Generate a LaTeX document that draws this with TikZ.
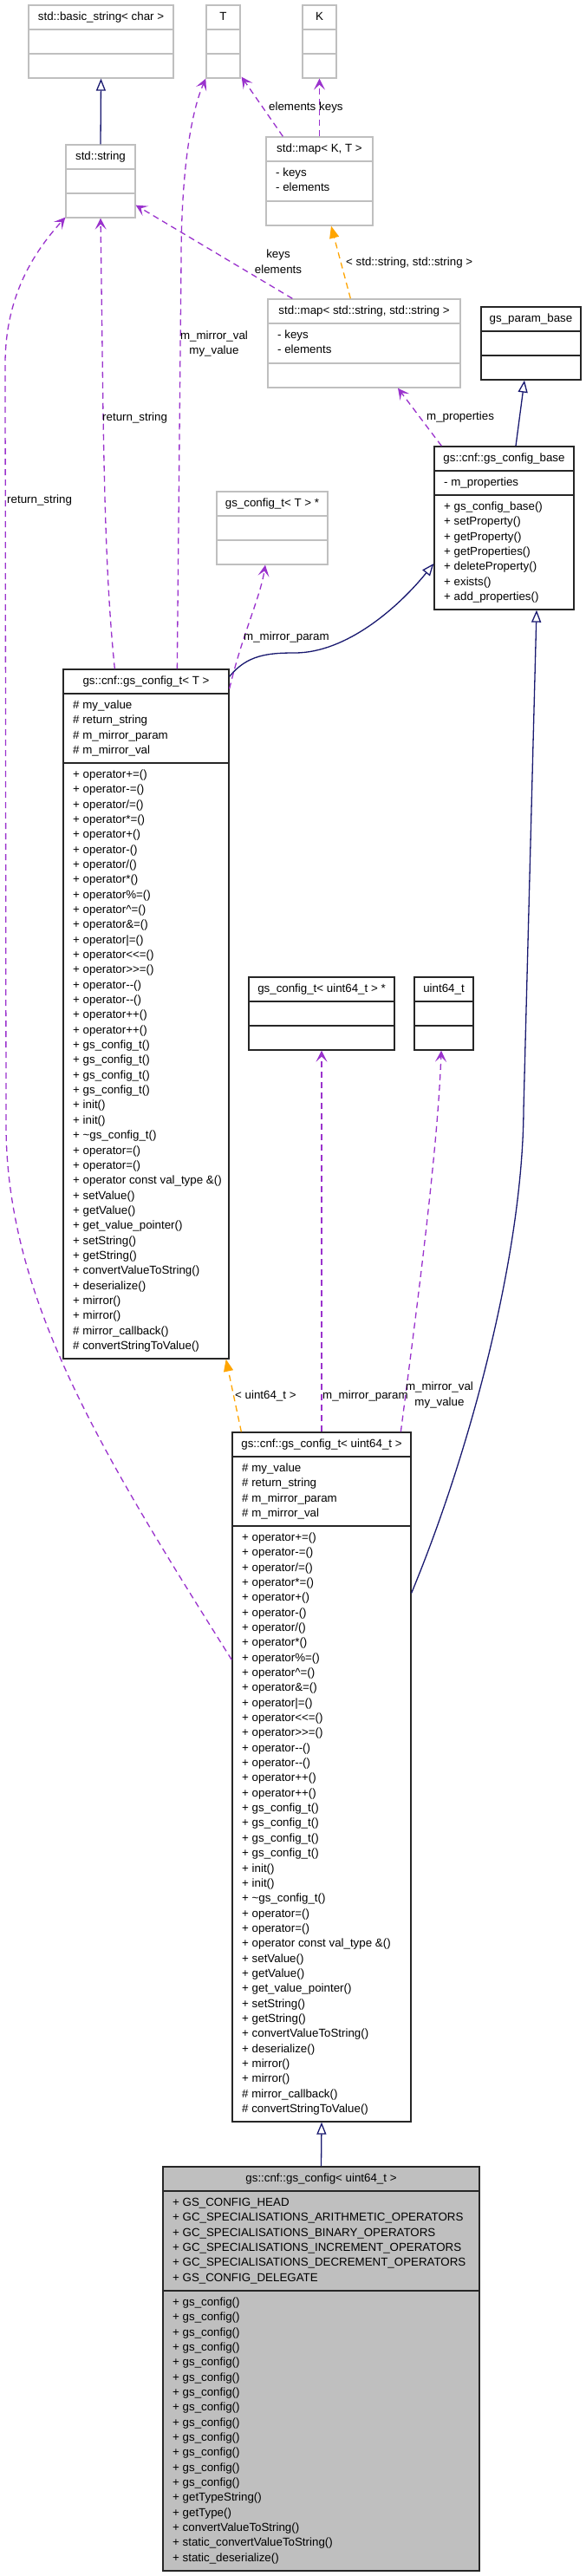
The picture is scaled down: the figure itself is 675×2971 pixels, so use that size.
\documentclass[tikz,border=0pt]{standalone}
\usepackage{fontspec}
\newfontfamily\dox{Liberation Sans}
\usetikzlibrary{arrows.meta,fit}
\definecolor{gborder}{HTML}{BFBFBF}
\definecolor{gfill}{HTML}{BFBFBF}
\definecolor{epurple}{HTML}{9A32CD}
\definecolor{eorange}{HTML}{FFA500}
\definecolor{eblue}{HTML}{191970}
\newcommand\doxfont{\dox\fontsize{13.33}{17.34}\selectfont}
\tikzset{
  every node/.style={font=\doxfont, text=black},
  graybox/.style={draw=gborder, line width=1.3pt, fill=white},
  blackbox/.style={draw=black!85, line width=1.3pt, fill=white},
  basebox/.style={draw=black!85, line width=1.3pt, fill=gfill},
  grayline/.style={draw=gborder, line width=1.3pt},
  blackline/.style={draw=black!85, line width=1.3pt},
  usearrow/.style={draw=epurple, line width=1.3pt, dash pattern=on 7pt off 5pt,
    -{Stealth[length=13pt,width=13pt,inset=6pt]}},
  tplarrow/.style={draw=eorange, line width=1.3pt, dash pattern=on 7pt off 5pt,
    -{Triangle[length=14pt,width=11pt]}},
  inharrow/.style={draw=eblue, line width=1.3pt,
    -{Triangle[open,length=14pt,width=11pt,fill=white]}},
  lbl/.style={anchor=base, inner sep=0pt},
  lbll/.style={anchor=base west, inner sep=0pt},
}
% box: name, style, x1, y1, x2, y2, title
\newcommand\umlbox[7]{%
  \node[#2, fit={(#3,#4) (#5,#6)}, inner sep=0pt] (#1) {};
  \node[lbl] (#1-t) at ({(#3+#5)/2}, {#4+17.5}) {#7};
}
% divider: style, x1, x2, y
\newcommand\umldiv[4]{\draw[#1] (#2,#4) -- (#3,#4);}
% lines: name prefix, x, first baseline, list
\newcommand\umllines[4]{%
  \foreach \t [count=\i from 0] in {#4} {\node[lbll] (#1\i) at (#2, {#3+\i*17.34}) {\t};}
}
\begin{document}
\begin{tikzpicture}[x=1pt,y=-1pt]
\useasboundingbox (0,0) rectangle (675,2971);
\fill[white] (0,0) rectangle (675,2971);

% ---------- boxes ----------
\umlbox{bstr}{graybox}{33}{6}{200}{90}{std::basic\_string< char >}
\umldiv{grayline}{33}{200}{34}\umldiv{grayline}{33}{200}{62}

\umlbox{tT}{graybox}{238}{6}{277}{90}{T}
\umldiv{grayline}{238}{277}{34}\umldiv{grayline}{238}{277}{62}

\umlbox{tK}{graybox}{349}{6}{388}{90}{K}
\umldiv{grayline}{349}{388}{34}\umldiv{grayline}{349}{388}{62}

\umlbox{str}{graybox}{76}{167}{156}{251}{std::string}
\umldiv{grayline}{76}{156}{195}\umldiv{grayline}{76}{156}{223}

\umlbox{mapKT}{graybox}{307}{158}{430}{260}{std::map< K, T >}
\umldiv{grayline}{307}{430}{186}\umldiv{grayline}{307}{430}{232}
\umllines{mapKT-a}{318}{203.5}{- keys, - elements}

\umlbox{mapSS}{graybox}{309}{345}{531}{447}{std::map< std::string, std::string >}
\umldiv{grayline}{309}{531}{373}\umldiv{grayline}{309}{531}{419}
\umllines{mapSS-a}{320}{390.5}{- keys, - elements}

\umlbox{pbase}{blackbox}{555}{354}{670}{438}{gs\_param\_base}
\umldiv{blackline}{555}{670}{382}\umldiv{blackline}{555}{670}{410}

\umlbox{cbase}{blackbox}{501}{515}{662}{703}{gs::cnf::gs\_config\_base}
\umldiv{blackline}{501}{662}{543}\umldiv{blackline}{501}{662}{571}
\umllines{cbase-a}{512}{560.5}{- m\_properties}
\umllines{cbase-m}{512}{588.5}{+ gs\_config\_base(), + setProperty(), + getProperty(), + getProperties(), + deleteProperty(), + exists(), + add\_properties()}

\umlbox{gctp}{graybox}{250}{567}{378}{651}{gs\_config\_t< T > *}
\umldiv{grayline}{250}{378}{595}\umldiv{grayline}{250}{378}{623}

\umlbox{gct}{blackbox}{73}{772}{264}{1567}{gs::cnf::gs\_config\_t< T >}
\umldiv{blackline}{73}{264}{800}\umldiv{blackline}{73}{264}{880}
\umllines{gct-a}{84}{817.5}{\# my\_value, \# return\_string, \# m\_mirror\_param, \# m\_mirror\_val}
\umllines{gct-m}{84}{897.5}{+ operator+=(), + operator-=(), + operator/=(), + operator*=(), + operator+(), + operator-(), + operator/(), + operator*(), + operator\%=(), + operator\textasciicircum=(), + operator\&=(), + operator|=(), + operator<\kern0pt<=(), + operator>\kern0pt>=(), + operator-\kern0pt-(), + operator-\kern0pt-(), + operator++(), + operator++(), + gs\_config\_t(), + gs\_config\_t(), + gs\_config\_t(), + gs\_config\_t(), + init(), + init(), + \textasciitilde gs\_config\_t(), + operator=(), + operator=(), + operator const val\_type \&(), + setValue(), + getValue(), + get\_value\_pointer(), + setString(), + getString(), + convertValueToString(), + deserialize(), + mirror(), + mirror(), \# mirror\_callback(), \# convertStringToValue()}

\umlbox{gcup}{blackbox}{287}{1127}{455}{1211}{gs\_config\_t< uint64\_t > *}
\umldiv{blackline}{287}{455}{1155}\umldiv{blackline}{287}{455}{1183}

\umlbox{u64}{blackbox}{478}{1127}{546}{1211}{uint64\_t}
\umldiv{blackline}{478}{546}{1155}\umldiv{blackline}{478}{546}{1183}

\umlbox{gcu}{blackbox}{268}{1652}{474}{2447}{gs::cnf::gs\_config\_t< uint64\_t >}
\umldiv{blackline}{268}{474}{1680}\umldiv{blackline}{268}{474}{1760}
\umllines{gcu-a}{279}{1697.5}{\# my\_value, \# return\_string, \# m\_mirror\_param, \# m\_mirror\_val}
\umllines{gcu-m}{279}{1777.5}{+ operator+=(), + operator-=(), + operator/=(), + operator*=(), + operator+(), + operator-(), + operator/(), + operator*(), + operator\%=(), + operator\textasciicircum=(), + operator\&=(), + operator|=(), + operator<\kern0pt<=(), + operator>\kern0pt>=(), + operator-\kern0pt-(), + operator-\kern0pt-(), + operator++(), + operator++(), + gs\_config\_t(), + gs\_config\_t(), + gs\_config\_t(), + gs\_config\_t(), + init(), + init(), + \textasciitilde gs\_config\_t(), + operator=(), + operator=(), + operator const val\_type \&(), + setValue(), + getValue(), + get\_value\_pointer(), + setString(), + getString(), + convertValueToString(), + deserialize(), + mirror(), + mirror(), \# mirror\_callback(), \# convertStringToValue()}

\umlbox{gc}{basebox}{188}{2499}{553}{2965}{gs::cnf::gs\_config< uint64\_t >}
\umldiv{blackline}{188}{553}{2527}\umldiv{blackline}{188}{553}{2642}
\umllines{gc-a}{199}{2544.5}{+ GS\_CONFIG\_HEAD, + GC\_SPECIALISATIONS\_ARITHMETIC\_OPERATORS, + GC\_SPECIALISATIONS\_BINARY\_OPERATORS, + GC\_SPECIALISATIONS\_INCREMENT\_OPERATORS, + GC\_SPECIALISATIONS\_DECREMENT\_OPERATORS, + GS\_CONFIG\_DELEGATE}
\umllines{gc-m}{199}{2659.5}{+ gs\_config(), + gs\_config(), + gs\_config(), + gs\_config(), + gs\_config(), + gs\_config(), + gs\_config(), + gs\_config(), + gs\_config(), + gs\_config(), + gs\_config(), + gs\_config(), + gs\_config(), + getTypeString(), + getType(), + convertValueToString(), + static\_convertValueToString(), + static\_deserialize()}

% ---------- connectors ----------
\draw[inharrow] (str.north) -- (bstr.south);
\draw[usearrow] (tK.south |- mapKT.north) -- (tK.south);
\draw[usearrow] ([xshift=20pt]mapKT.north west) -- ([xshift=1pt,yshift=2pt]tT.south east);
\draw[tplarrow] ([xshift=96pt]mapSS.north west) -- ([xshift=13.5pt]mapKT.south);
\draw[usearrow] ([xshift=29pt]mapSS.north west) -- ([yshift=15pt]str.south east);
\draw[usearrow] ([xshift=9pt]cbase.north west) -- ([xshift=39pt]mapSS.south);
\draw[inharrow] ([xshift=13.5pt]cbase.north) -- ([xshift=-7.5pt]pbase.south);
\draw[inharrow] ([yshift=-9pt]gct.north east) .. controls (285,755) and (310,753) .. (340,753) .. controls (400,753) and (460,700) .. ([yshift=-41pt]cbase.west);
\draw[usearrow] ([yshift=-23pt]gct.north east) .. controls (280,730) and (300,690) .. ([xshift=-8pt]gctp.south);
\draw[usearrow] ([xshift=60pt]gct.north west) .. controls (124,690) and (121,600) .. (119,480) -- (str.south);
\draw[usearrow] ([xshift=132pt]gct.north west) -- (209,300) .. controls (209,200) and (220,130) .. (tT.south west);
\draw[tplarrow] ([xshift=11pt]gcu.north west) -- ([xshift=-4pt]gct.south east);
\draw[usearrow] (gcup.south |- gcu.north) -- (gcup.south);
\draw[usearrow] ([xshift=195pt]gcu.north west) .. controls (478,1530) and (505,1330) .. ([xshift=-3pt]u64.south);
\draw[inharrow] ([yshift=-186pt]gcu.north east) .. controls (540,1680) and (603,1450) .. (604,1280) -- ([xshift=37.5pt]cbase.south);
\draw[inharrow] (gc.north) -- (gcu.south);
\draw[usearrow] ([yshift=-263pt]gcu.north west) .. controls (120,1680) and (8,1500) .. (7,1300) -- (6,420) .. controls (6,340) and (40,290) .. ([yshift=1pt]str.south west);

% ---------- labels ----------
\node[lbll] (l-el1) at (310,127) {elements};
\node[lbll] (l-k1) at (368,127) {keys};
\node[lbll] (l-ss) at (399,306) {< std::string, std::string >};
\node[lbl] (l-k2) at (321,297) {keys};
\node[lbl] (l-el2) at (321,315) {elements};
\node[lbll] (l-mp) at (492,484) {m\_properties};
\node[lbl] (l-mv1) at (247,391) {m\_mirror\_val};
\node[lbl] (l-my1) at (247,408) {my\_value};
\node[lbll] (l-rs1) at (118,485) {return\_string};
\node[lbll] (l-rs2) at (8,580) {return\_string};
\node[lbll] (l-mpar1) at (281,738) {m\_mirror\_param};
\node[lbll] (l-u64) at (271,1613) {< uint64\_t >};
\node[lbll] (l-mpar2) at (372,1613) {m\_mirror\_param};
\node[lbl] (l-mv2) at (507,1603) {m\_mirror\_val};
\node[lbl] (l-my2) at (507,1621) {my\_value};
\end{tikzpicture}
\end{document}
